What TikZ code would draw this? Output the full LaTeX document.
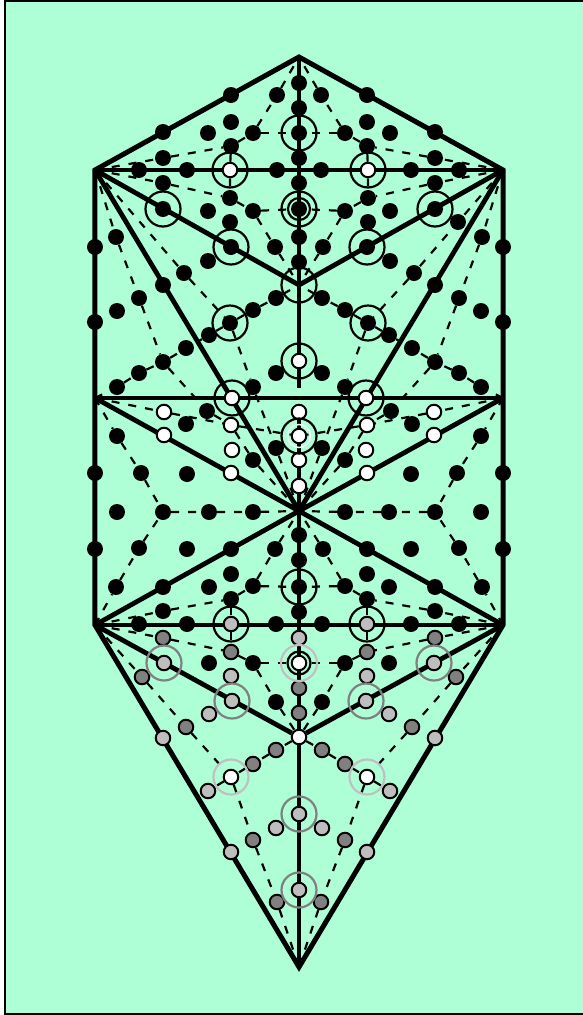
\documentclass[tikz,border=0pt]{standalone}
\pgfdeclarelayer{backdrop}
\pgfdeclarelayer{lines}
\pgfsetlayers{backdrop,lines,main}
\definecolor{paper}{RGB}{175,255,214}
\definecolor{lightdot}{RGB}{190,190,190}
\definecolor{darkdot}{RGB}{128,128,128}
\definecolor{paleline}{RGB}{192,192,192}
\tikzset{
  blackdot/.style={circle, fill=black, inner sep=0pt, minimum size=16pt},
  whitedot/.style={circle, draw=black, line width=2pt, fill=white, inner sep=0pt, minimum size=14.5pt},
  lightball/.style={whitedot, fill=lightdot},
  darkball/.style={whitedot, fill=darkdot},
  ringline/.style={circle, draw=black, line width=2.2pt, inner sep=0pt, minimum size=35pt},
  grayring/.style={ringline, draw=darkdot},
  palering/.style={ringline, draw=paleline},
  thickline/.style={line width=4.8pt},
  dashline/.style={line width=2.2pt, dash pattern=on 8pt off 9pt}
}
\begin{document}
\begin{tikzpicture}[x=1pt, y=-1pt]
  \useasboundingbox (-299,0) rectangle (284,1015);

  % Corners of the outline
  \coordinate (top) at (0,57);
  \coordinate (bot) at (0,967);
  \coordinate (hub) at (0,511);
  \coordinate (stem) at (0,388);
  \coordinate (fork) at (0,285);
  \foreach \sd/\m in {a/-1,b/1} {
    \coordinate (\sd-up) at (\m*204,170);
    \coordinate (\sd-mid) at (\m*204,398);
    \coordinate (\sd-low) at (\m*204,625);
  }

  % Dots on both sides of the axis
  \foreach \sd/\m in {a/-1,b/1} {
    \foreach \dx/\y in {68/95, 136/132, 22/95, 68/122, 91/133, 46/133, 68/146, 136/158,
        160/170, 112/170, 22/170, 136/183, 69/198, 91/211, 46/211, 69/222, 136/209, 68/247,
        91/261, 183/237, 204/247, 115/273, 24/247, 136/285, 160/298, 182/311, 204/322,
        113/348, 136/362, 160/373, 182/387, 90/335, 69/323, 46/310, 23/298, 23/373, 46/387,
        92/411, 113/424, 23/448, 46/460, 182/436, 204/473, 158/473, 112/474, 182/512,
        136/512, 90/512, 46/512, 204/549, 183/587, 160/548, 112/549, 68/549, 24/549,
        136/587, 68/574, 90/587, 46/586, 136/611, 68/599, 160/624, 112/624, 23/624,
        46/663, 90/663, 23/702}
      \node[blackdot] (\sd\dx-\y) at (\m*\dx,\y) {};
    \foreach \dx/\y in {69/170, 67/398, 135/412, 135/435, 68/425, 67/450, 68/473, 68/777}
      \node[whitedot] (\sd\dx-\y) at (\m*\dx,\y) {};
    \foreach \dx/\y in {68/624, 135/663, 68/676, 67/701, 90/714, 136/738, 91/791, 68/852, 23/828}
      \node[lightball] (\sd\dx-\y) at (\m*\dx,\y) {};
    \foreach \dx/\y in {136/638, 68/652, 157/677, 113/727, 23/750, 46/764, 46/840, 22/902}
      \node[darkball] (\sd\dx-\y) at (\m*\dx,\y) {};
  }
  \node[blackdot] (b159-222) at (159,222) {};

  % Dots on the axis
  \foreach \y in {83,108,133,158,183,209,237,262,535,560,587,612}
    \node[blackdot] (c\y) at (0,\y) {};
  \foreach \y in {361,412,436,460,486,663,737}
    \node[whitedot] (c\y) at (0,\y) {};
  \foreach \y in {638,814,890}
    \node[lightball] (c\y) at (0,\y) {};
  \foreach \y in {688,713}
    \node[darkball] (c\y) at (0,\y) {};

  % Rings
  \foreach \sd/\m in {a/-1,b/1} {
    \foreach \dx/\y in {69/170, 136/209, 68/247, 69/323, 67/398, 68/624}
      \node[ringline] (r\sd\dx-\y) at (\m*\dx,\y) {};
    \foreach \dx/\y in {135/663, 67/701}
      \node[grayring] (r\sd\dx-\y) at (\m*\dx,\y) {};
    \node[palering] (r\sd68-777) at (\m*68,777) {};
  }
  \foreach \y in {133,209,285,361,436,587}
    \node[ringline] (rc\y) at (0,\y) {};
  \foreach \y in {814,890}
    \node[grayring] (rc\y) at (0,\y) {};
  \node[ringline, minimum size=22pt] (rc209b) at (0,209) {};
  \node[palering, minimum size=23pt, line width=1.5pt, draw=white!80!paper] (rc436b) at (0,436) {};
  \node[palering, minimum size=36pt] (rc663) at (0,663) {};
  \node[ringline, minimum size=23pt] (rc663b) at (0,663) {};

  \begin{pgfonlayer}{backdrop}
    \draw[fill=paper, line width=1.5pt] (-294,1) rectangle (290,1014);
  \end{pgfonlayer}

  \begin{pgfonlayer}{lines}
    % Heavy lines
    \draw[thickline, line width=5pt] (top) -- (a-up) -- (a-mid) -- (a-low) -- (bot)
      -- (b-low) -- (b-mid) -- (b-up) -- cycle;
    \draw[thickline] (a-up) -- (b-up);
    \draw[thickline] (a-mid) -- (b-mid);
    \draw[thickline] (a-low) -- (b-low);
    \draw[thickline] (top) -- (stem);
    \draw[thickline] (hub) -- (bot);
    \draw[line width=3.5pt] (c412) -- (hub);
    \foreach \sd in {a,b} {
      \draw[thickline] (\sd-up) -- (fork);
      \draw[thickline] (\sd-up) -- (hub);
      \draw[thickline] (\sd-mid) -- (hub);
      \draw[thickline] (\sd-low) -- (hub);
      \draw[thickline] (\sd-low) -- (c737);
    }

    % Dashed lines
    \foreach \sd in {a,b} {
      \draw[dashline] (\sd-up) -- (\sd136-158) -- (\sd68-146) -- (\sd46-133) -- (\sd22-95) -- (top);
      \draw[dashline] (\sd46-133) -- (c133);
      \draw[dashline] (\sd68-146) -- (\sd69-170) -- (\sd69-198);
      \draw[dashline] (\sd-up) -- (\sd136-183) -- (\sd69-198) -- (\sd46-211) -- (\sd24-247) -- (fork);
      \draw[dashline] (\sd46-211) -- (c209);
      \draw[dashline] (\sd-up) -- (\sd183-237) -- (\sd160-298) -- (\sd136-362) -- (\sd92-411)
        -- (\sd68-425) -- (\sd46-460) -- (hub);
      \draw[dashline] (\sd-up) -- (\sd115-273) -- (\sd69-323) -- (\sd46-387) -- (\sd23-448) -- (hub);
      \draw[dashline] (\sd-mid) -- (\sd182-387) -- (\sd160-373) -- (\sd136-362) -- (\sd90-335)
        -- (\sd69-323) -- (\sd46-310) -- (\sd23-298) -- (fork);
      \draw[dashline] (\sd-mid) -- (\sd135-412) -- (\sd68-425) -- (c436);
      \draw[dashline] (\sd-mid) -- (\sd182-436) -- (\sd158-473) -- (\sd136-512);
      \draw[dashline] (\sd136-512) -- (\sd90-512) -- (\sd46-512) -- (hub);
      \draw[dashline] (\sd-low) -- (\sd183-587) -- (\sd160-548) -- (\sd136-512);
      \draw[dashline] (\sd-low) -- (\sd136-611) -- (\sd68-599) -- (\sd46-586) -- (\sd24-549) -- (hub);
      \draw[dashline] (\sd46-586) -- (c587);
      \draw[dashline] (\sd68-599) -- (\sd68-624) -- (\sd68-652);
      \draw[dashline] (\sd-low) -- (\sd136-638) -- (\sd68-652) -- (\sd46-663) -- (\sd23-702) -- (c737);
      \draw[dashline] (\sd46-663) -- (c663);
      \draw[dashline] (\sd-low) -- (\sd157-677) -- (\sd113-727) -- (\sd68-777) -- (\sd46-840)
        -- (\sd22-902) -- (bot);
      \draw[dashline] (c737) -- (\sd23-750) -- (\sd46-764) -- (\sd68-777) -- (\sd91-791);
    }
  \end{pgfonlayer}
\end{tikzpicture}
\end{document}
